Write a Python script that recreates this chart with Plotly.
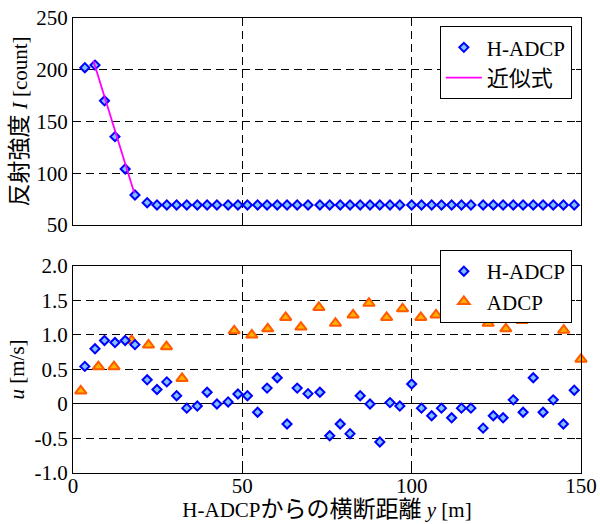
import plotly.graph_objects as go
from plotly.subplots import make_subplots

# ---- data ----
y_hadcp = [3.5, 6.5, 9.3, 12.4, 15.4, 18.3, 21.9, 24.8, 27.7, 30.6, 33.6, 36.7, 39.6, 42.5,
           45.8, 48.7, 51.5, 54.5, 57.3, 60.3, 63.2, 66.2, 69.4, 72.9, 75.8, 78.9, 81.8, 84.8,
           87.7, 90.6, 93.6, 96.5, 100.0, 102.9, 105.9, 108.8, 111.8, 114.7, 117.5, 121.1,
           124.1, 127.0, 130.0, 132.9, 135.9, 138.8, 141.8, 144.8, 148.0]
intensity = [202, 204.5, 170, 135.4, 104.2, 79, 71.6] + [69.4] * 42

fit_y = [6.0, 18.1]
fit_I = [209, 81]

u_hadcp = [0.545, 0.80, 0.92, 0.89, 0.92, 0.86, 0.35, 0.21, 0.32, 0.12, -0.06, -0.03, 0.17,
           0.00, 0.03, 0.145, 0.12, -0.12, 0.23, 0.38, -0.29, 0.23, 0.15, 0.17, -0.46, -0.29,
           -0.43, 0.12, 0.00, -0.55, 0.02, -0.03, 0.29, -0.06, -0.17, -0.06, -0.20, -0.06,
           -0.06, -0.35, -0.17, -0.20, 0.06, -0.12, 0.38, -0.12, 0.06, -0.29, 0.20]

y_adcp = [2.3, 7.5, 12.1, 17.3, 22.3, 27.6, 32.2, 47.6, 52.8, 57.5, 62.8, 67.3, 72.6, 77.5,
          82.7, 87.4, 92.6, 97.3, 102.7, 107.2, 122.6, 127.8, 132.6, 137.9, 144.9, 150.0]
u_adcp = [0.19, 0.54, 0.54, 0.92, 0.855, 0.83, 0.37, 1.06, 1.00, 1.09, 1.255, 1.115, 1.40,
          1.17, 1.29, 1.46, 1.255, 1.38, 1.255, 1.29, 1.17, 1.09, 1.21, 1.255, 1.07, 0.65]

x_ticks = [0, 50, 100, 150]
I_ticks = [50, 100, 150, 200, 250]
u_ticks = [-1.0, -0.5, 0, 0.5, 1.0, 1.5, 2.0]
u_ticktext = ["-1.0", "-0.5", "0", "0.5", "1.0", "1.5", "2.0"]

FONT = "Liberation Serif"
JPX = "font-family:Noto Sans CJK JP;font-size:23px"
JPY = "font-family:Noto Sans CJK JP;font-size:23px"
JPL = "font-family:Noto Sans CJK JP;font-size:22px"
BLUE = "#0000ff"
LBLUE = "#80c0ff"
ORANGE = "#ff5a00"
AMBER = "#ffb000"

fig = make_subplots(rows=2, cols=1, shared_xaxes=False, vertical_spacing=0.09)

fig.add_trace(go.Scatter(x=y_hadcp, y=intensity, mode="markers", name="H-ADCP",
                         marker=dict(symbol="diamond", size=7, color=LBLUE,
                                     line=dict(color=BLUE, width=2)),
                         legend="legend"), row=1, col=1)
fig.add_trace(go.Scatter(x=fit_y, y=fit_I, mode="lines",
                         name=f"<span style=\"{JPL}\">近似式</span>",
                         line=dict(color="#ff00ff", width=1.8), legend="legend"), row=1, col=1)

fig.add_trace(go.Scatter(x=y_adcp, y=u_adcp, mode="markers", name="ADCP",
                         marker=dict(symbol="triangle-up", size=10, color=AMBER,
                                     line=dict(color=ORANGE, width=2)),
                         cliponaxis=False, legend="legend2", legendrank=2), row=2, col=1)
fig.add_trace(go.Scatter(x=y_hadcp, y=u_hadcp, mode="markers", name="H-ADCP",
                         marker=dict(symbol="diamond", size=7, color=LBLUE,
                                     line=dict(color=BLUE, width=2)),
                         legend="legend2", legendrank=1), row=2, col=1)

axis_common = dict(showline=True, linecolor="black", linewidth=1, mirror="ticks",
                   ticks="inside", ticklen=5, tickcolor="black",
                   showgrid=True, gridcolor="black", griddash="8px,5px", gridwidth=1,
                   tickfont=dict(family=FONT, size=21, color="black"),
                   zeroline=False, automargin=False)

fig.update_xaxes(**axis_common)
fig.update_yaxes(**axis_common)

fig.update_xaxes(range=[0, 150], tickvals=x_ticks, showticklabels=False,
                 domain=[0, 1], row=1, col=1)
fig.update_xaxes(range=[0, 150], tickvals=x_ticks, domain=[0, 1], ticklabelstandoff=-6,
                 title=dict(text=f"H-ADCP<span style=\"{JPX}\">からの横断距離</span> <i>y</i> [m]",
                            font=dict(family=FONT, size=21, color="black"), standoff=12),
                 row=2, col=1)
fig.update_yaxes(range=[50, 250], tickvals=I_ticks, domain=[0.545, 1.0],
                 title=dict(text=f"<span style=\"{JPY}\">反射強度</span> <i>I</i> [count]",
                            font=dict(family=FONT, size=21, color="black"), standoff=4),
                 row=1, col=1)
fig.update_yaxes(range=[-1.0, 2.0], tickvals=u_ticks, ticktext=u_ticktext,
                 domain=[0.0, 0.455], zeroline=True, zerolinecolor="black", zerolinewidth=1,
                 title=dict(text="<i>u</i> [m/s]",
                            font=dict(family=FONT, size=21, color="black"), standoff=4),
                 row=2, col=1)

legend_style = dict(bgcolor="white", bordercolor="black", borderwidth=1,
                    font=dict(family=FONT, size=21, color="black"),
                    xref="paper", yref="paper", xanchor="right", yanchor="top",
                    tracegroupgap=0, itemwidth=36)
fig.update_layout(
    width=600, height=524,
    margin=dict(l=73, r=19, t=18, b=51, autoexpand=False),
    paper_bgcolor="white", plot_bgcolor="white",
    showlegend=True,
    legend=dict(x=0.982, y=0.982, **legend_style),
    legend2=dict(x=0.982, y=0.49, **legend_style),
    font=dict(family=FONT, color="black"),
)

fig.write_html("out.html", config={"displayModeBar": False},
               post_script="document.body.style.margin='0';")
